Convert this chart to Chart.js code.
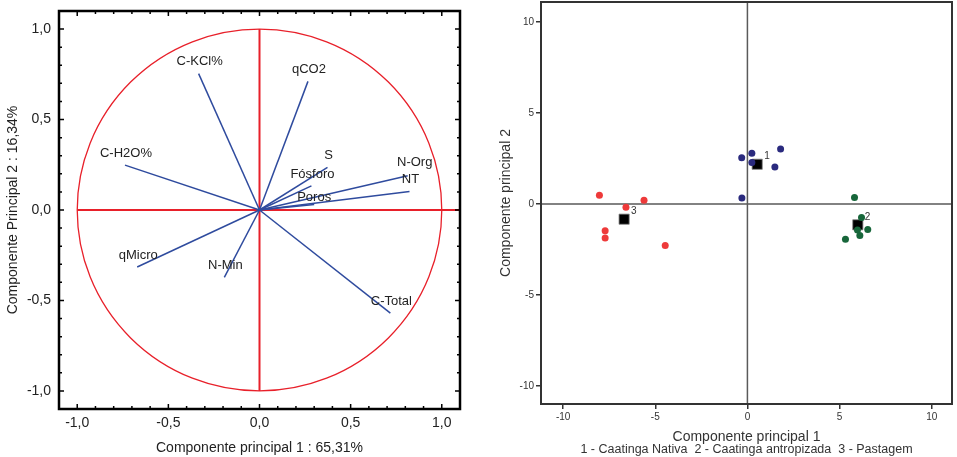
<!DOCTYPE html>
<html>
<head>
<meta charset="utf-8">
<script src="https://cdn.jsdelivr.net/npm/chart.js@4.4.1/dist/chart.umd.min.js"></script>
<style>
  html, body { margin:0; padding:0; background:#fff; }
  #wrap { position:relative; width:957px; height:457px; overflow:hidden; }
  #left { position:absolute; left:0; top:0; }
  #right { position:absolute; left:480px; top:0; }
</style>
</head>
<body>
<div id="wrap">
  <canvas id="left" width="470" height="457"></canvas>
  <canvas id="right" width="477" height="457"></canvas>
</div>
<script>
// ---------- Data: left panel (variable loadings) ----------
const varNames   = ['C-KCl%', 'qCO2', 'C-H2O%', 'S', 'Fósforo', 'Poros', 'N-Org', 'NT', 'qMicro', 'N-Min', 'C-Total'];
const pc1Loading = [-0.334, 0.266, -0.738, 0.373, 0.285, 0.300, 0.813, 0.823, -0.671, -0.193, 0.718];
const pc2Loading = [ 0.754, 0.711,  0.248, 0.235, 0.133, 0.030, 0.189, 0.102, -0.315, -0.372, -0.570];
const loadingTicks = [-1.0, -0.5, 0.0, 0.5, 1.0];
const xTitleLeft = 'Componente principal 1 : 65,31%';
const yTitleLeft = 'Componente Principal 2 : 16,34%';

// ---------- Data: right panel (scores) ----------
const nativaX = [-0.31, 0.24, 0.24, 1.80, 1.49, -0.30];
const nativaY = [ 2.54, 2.78, 2.27, 3.02, 2.03,  0.33];
const antropX = [ 5.81, 6.19, 5.97, 6.53, 6.10, 5.32];
const antropY = [ 0.35, -0.75, -1.43, -1.41, -1.74, -1.94];
const pastX   = [-8.03, -5.61, -6.59, -7.72, -7.72, -4.46];
const pastY   = [ 0.48,  0.20, -0.18, -1.48, -1.87, -2.29];
const centroidLabels = ['1', '2', '3'];
const centroidX = [0.53, 5.99, -6.69];
const centroidY = [2.18, -1.15, -0.84];
const scoreTicks = [-10, -5, 0, 5, 10];
const xTitleRight = 'Componente principal 1';
const yTitleRight = 'Componente principal 2';
const groupLegend = '1 - Caatinga Nativa  2 - Caatinga antropizada  3 - Pastagem';

// ---------- Styles ----------
const FONT = "'Liberation Sans', Arial, sans-serif";
const vecColor = '#2f4b9e';
const circleRed = '#e8202a';
const labelOffsets = { default: [1, -12], 'N-Org': [7, -13], 'Poros': [0, -7] };

const pts = (xs, ys) => xs.map((x, i) => ({ x: x, y: ys[i] }));
const fmtComma = v => v.toFixed(1).replace('.', ',');
const noPadX = h => s => { s.height = h; s.paddingLeft = 0; s.paddingRight = 0; };
const noPadY = w => s => { s.width = w; s.paddingTop = 0; s.paddingBottom = 0; };

// ---------- Left chart plugins ----------
const corrCirclePlugin = {
  id: 'corrCircle',
  beforeDatasetsDraw(chart) {
    const { ctx, scales: { x, y }, chartArea } = chart;
    const cx = x.getPixelForValue(0), cy = y.getPixelForValue(0);
    const rx = x.getPixelForValue(1) - cx, ry = cy - y.getPixelForValue(1);
    ctx.save();
    ctx.strokeStyle = circleRed;
    ctx.lineWidth = 1.3;
    ctx.beginPath();
    ctx.ellipse(cx, cy, rx, ry, 0, 0, Math.PI * 2);
    ctx.stroke();
    ctx.lineWidth = 2;
    ctx.beginPath();
    ctx.moveTo(x.getPixelForValue(-1), cy);
    ctx.lineTo(chartArea.right, cy);
    ctx.moveTo(cx, y.getPixelForValue(1));
    ctx.lineTo(cx, y.getPixelForValue(-1));
    ctx.stroke();
    ctx.restore();
  },
  afterDatasetsDraw(chart) {
    const { ctx, scales: { x, y } } = chart;
    ctx.save();
    ctx.font = '13px ' + FONT;
    ctx.fillStyle = '#222';
    ctx.textAlign = 'center';
    ctx.textBaseline = 'middle';
    varNames.forEach((n, i) => {
      const off = labelOffsets[n] || labelOffsets.default;
      ctx.fillText(n, x.getPixelForValue(pc1Loading[i]) + off[0], y.getPixelForValue(pc2Loading[i]) + off[1]);
    });
    ctx.restore();
  },
  afterDraw(chart) {
    const { ctx, scales: { x, y }, chartArea: a } = chart;
    ctx.save();
    ctx.strokeStyle = '#000';
    ctx.lineWidth = 1.5;
    ctx.beginPath();
    for (let k = -11; k <= 11; k++) {
      const v = k / 10;
      const len = (k % 5 === 0) ? 5 : 3;
      const px = x.getPixelForValue(v), py = y.getPixelForValue(v);
      ctx.moveTo(px, a.bottom); ctx.lineTo(px, a.bottom - len);
      ctx.moveTo(px, a.top); ctx.lineTo(px, a.top + len);
      ctx.moveTo(a.left, py); ctx.lineTo(a.left + len, py);
      ctx.moveTo(a.right, py); ctx.lineTo(a.right - len, py);
    }
    ctx.stroke();
    ctx.lineWidth = 2.5;
    ctx.strokeRect(a.left, a.top, a.right - a.left, a.bottom - a.top);
    ctx.restore();
  }
};

const leftDatasets = varNames.map((n, i) => ({
  label: n,
  data: [{ x: 0, y: 0 }, { x: pc1Loading[i], y: pc2Loading[i] }],
  showLine: true,
  borderColor: vecColor,
  borderWidth: 1.5,
  pointRadius: 0,
  fill: false
}));

new Chart(document.getElementById('left'), {
  type: 'scatter',
  data: { datasets: leftDatasets },
  options: {
    responsive: false,
    animation: false,
    events: [],
    layout: { autoPadding: false, padding: { top: 11, right: 10, left: 0, bottom: 0 } },
    plugins: { legend: { display: false }, tooltip: { enabled: false } },
    scales: {
      x: {
        type: 'linear', min: -1.1, max: 1.1,
        afterBuildTicks: s => { s.ticks = loadingTicks.map(v => ({ value: v })); },
        afterFit: noPadX(48),
        ticks: { callback: v => fmtComma(v), font: { size: 14, family: FONT }, color: '#222', padding: 6, maxRotation: 0 },
        grid: { display: false, drawTicks: false },
        border: { display: false },
        title: { display: true, text: xTitleLeft, font: { size: 14, family: FONT }, color: '#222', padding: { top: 0, bottom: 0 } }
      },
      y: {
        type: 'linear', min: -1.1, max: 1.1,
        afterBuildTicks: s => { s.ticks = loadingTicks.map(v => ({ value: v })); },
        afterFit: noPadY(59),
        ticks: { callback: v => fmtComma(v), font: { size: 14, family: FONT }, color: '#222', padding: 8 },
        grid: { display: false, drawTicks: false },
        border: { display: false },
        title: { display: true, text: yTitleLeft, font: { size: 14, family: FONT }, color: '#222', padding: { top: 5, bottom: 0 } }
      }
    }
  },
  plugins: [corrCirclePlugin]
});

// ---------- Right chart ----------
const scorePlugin = {
  id: 'scoreDecor',
  beforeDatasetsDraw(chart) {
    const { ctx, scales: { x, y }, chartArea: a } = chart;
    ctx.save();
    ctx.strokeStyle = '#5a5a5a';
    ctx.lineWidth = 1.5;
    ctx.beginPath();
    const x0 = x.getPixelForValue(0), y0 = y.getPixelForValue(0);
    ctx.moveTo(x0, a.top); ctx.lineTo(x0, a.bottom);
    ctx.moveTo(a.left, y0); ctx.lineTo(a.right, y0);
    ctx.stroke();
    ctx.restore();
  },
  afterDatasetsDraw(chart) {
    const { ctx, scales: { x, y } } = chart;
    ctx.save();
    ctx.font = '10px ' + FONT;
    ctx.fillStyle = '#333';
    ctx.textAlign = 'left';
    ctx.textBaseline = 'middle';
    centroidLabels.forEach((l, i) => {
      ctx.fillText(l, x.getPixelForValue(centroidX[i]) + 7, y.getPixelForValue(centroidY[i]) - 8);
    });
    ctx.restore();
  },
  afterDraw(chart) {
    const { ctx, chartArea: a } = chart;
    ctx.save();
    ctx.strokeStyle = '#333';
    ctx.lineWidth = 2;
    ctx.strokeRect(a.left, a.top, a.right - a.left, a.bottom - a.top);
    ctx.font = '12.5px ' + FONT;
    ctx.fillStyle = '#333';
    ctx.textAlign = 'center';
    ctx.textBaseline = 'middle';
    ctx.fillText(groupLegend, (a.left + a.right) / 2, 449.5);
    ctx.restore();
  }
};

new Chart(document.getElementById('right'), {
  type: 'scatter',
  data: {
    datasets: [
      { label: '1', data: pts(nativaX, nativaY), backgroundColor: '#2a2a7e', borderColor: '#2a2a7e', pointRadius: 3.5, borderWidth: 0 },
      { label: '2', data: pts(antropX, antropY), backgroundColor: '#17663a', borderColor: '#17663a', pointRadius: 3.5, borderWidth: 0 },
      { label: '3', data: pts(pastX, pastY), backgroundColor: '#ee3a3a', borderColor: '#ee3a3a', pointRadius: 3.5, borderWidth: 0 },
      { label: 'Centroides', data: pts(centroidX, centroidY), backgroundColor: '#000', borderColor: '#888', borderWidth: 0.8, pointStyle: 'rect', pointRadius: 7.2 }
    ]
  },
  options: {
    responsive: false,
    animation: false,
    events: [],
    layout: { autoPadding: false, padding: { top: 2, right: 5, left: 0, bottom: 0 } },
    plugins: { legend: { display: false }, tooltip: { enabled: false } },
    scales: {
      x: {
        type: 'linear', min: -11.2, max: 11.1,
        afterBuildTicks: s => { s.ticks = scoreTicks.map(v => ({ value: v })); },
        afterFit: noPadX(53),
        ticks: { font: { size: 10, family: FONT }, color: '#333', padding: 2, maxRotation: 0 },
        grid: { display: true, drawOnChartArea: false, drawTicks: true, tickLength: 5, color: '#333', lineWidth: 1.5 },
        border: { display: false },
        title: { display: true, text: xTitleRight, font: { size: 14, family: FONT }, color: '#333', padding: { top: 0, bottom: 11 } }
      },
      y: {
        type: 'linear', min: -11, max: 11.1,
        afterBuildTicks: s => { s.ticks = scoreTicks.map(v => ({ value: v })); },
        afterFit: noPadY(61),
        ticks: { font: { size: 10, family: FONT }, color: '#333', padding: 2 },
        grid: { display: true, drawOnChartArea: false, drawTicks: true, tickLength: 5, color: '#333', lineWidth: 1.5 },
        border: { display: false },
        title: { display: true, text: yTitleRight, font: { size: 14, family: FONT }, color: '#333', padding: { top: 18, bottom: 0 } }
      }
    }
  },
  plugins: [scorePlugin]
});
</script>
</body>
</html>
